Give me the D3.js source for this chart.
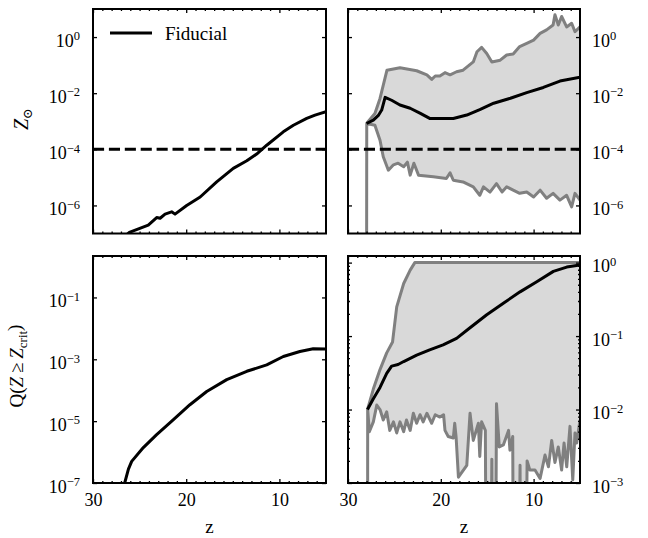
<!DOCTYPE html>
<html><head><meta charset="utf-8">
<script src="https://cdn.jsdelivr.net/npm/d3@7/dist/d3.min.js"></script>
<style>body{margin:0;background:#fff}</style>
</head><body>
<svg id="c" width="648" height="538"></svg>
<script>
// ---------------- data ----------------
const zMajorTicks = [30, 20, 10];
const zMinorTicks = [29,28,27,26,25,24,23,22,21,19,18,17,16,15,14,13,12,11,9,8,7,6];
const metTicks = [1, 1e-2, 1e-4, 1e-6];
const qLeftTicks = [1e-1, 1e-3, 1e-5, 1e-7];
const qRightTicks = [1, 1e-1, 1e-2, 1e-3];
const zCrit = 1e-4;
const legendLabel = "Fiducial";

// top-left: fiducial metallicity vs z  [z, Z/Zsun]
const metFiducial = [[26.4,9e-8],[26.1,1.1e-7],[24.07,2.0e-7],[23.17,3.7e-7],[22.8,3.5e-7],[22.27,4.9e-7],
  [21.56,5.9e-7],[21.2,4.9e-7],[19.95,1.0e-6],[18.5,2.0e-6],[16.73,6.9e-6],[14.95,2.1e-5],[13.5,3.9e-5],
  [12.44,6.8e-5],[11.36,1.4e-4],[9.58,4.2e-4],[8.5,7.2e-4],[7.07,1.26e-3],[6.18,1.66e-3],[5.0,2.2e-3]];

// top-right: median and range of metallicity
const metMedian = [[28.0,8.3e-4],[27.27,1.1e-3],[26.7,1.66e-3],[26.37,2.5e-3],[26.0,7.1e-3],[25.3,5.6e-3],
  [24.4,3.8e-3],[23.3,2.9e-3],[22.2,1.9e-3],[21.2,1.26e-3],[20.1,1.26e-3],[18.65,1.26e-3],[17.2,1.66e-3],
  [15.8,2.6e-3],[14.3,4.4e-3],[12.5,6.6e-3],[10.74,1.05e-2],[8.95,1.6e-2],[7.16,2.7e-2],[5.0,3.7e-2]];
const metHigh = [[28.0,8.3e-4],[27.1,1.9e-3],[26.55,6.5e-3],[25.8,6.6e-2],[24.4,8.1e-2],[22.6,6.3e-2],
  [21.5,4.5e-2],[20.98,3.1e-2],[20.6,4.1e-2],[20.1,4.1e-2],[19.55,5.4e-2],[19.0,4.5e-2],[18.3,5.8e-2],
  [17.6,6.6e-2],[16.5,0.13],[16.1,0.30],[15.6,0.43],[15.05,0.26],[14.5,0.13],[13.6,0.15],[12.9,0.23],
  [12.2,0.25],[11.5,0.46],[10.74,0.60],[10.0,0.78],[9.3,1.35],[8.6,1.8],[7.9,2.7],[7.7,6.2],[7.34,2.7],
  [6.98,5.4],[6.44,2.3],[5.9,3.1],[5.54,1.55],[5.0,2.3]];
const metLow = [[28.0,1e-10],[27.98,8.3e-4],[27.1,7.2e-4],[26.55,2.1e-4],[26.2,5.4e-5],[25.65,1.8e-5],
  [25.1,2.8e-5],[24.6,3.2e-5],[24.0,2.4e-5],[23.6,3.5e-5],[23.3,1.2e-5],[22.9,3.2e-5],[22.4,1.2e-5],
  [20.8,1.05e-5],[19.4,9.1e-6],[19.0,1.45e-5],[18.65,7.9e-6],[17.6,6.9e-6],[16.5,4.6e-6],[15.8,2.3e-6],
  [15.4,4.6e-6],[14.7,3.0e-6],[14.0,6.0e-6],[13.4,3.0e-6],[12.9,4.6e-6],[12.2,3.5e-6],[11.5,2.7e-6],
  [10.74,3.0e-6],[10.0,2.0e-6],[9.3,3.5e-6],[8.6,1.8e-6],[7.9,2.7e-6],[7.16,1.55e-6],[6.44,2.3e-6],
  [5.9,8.9e-7],[5.54,2.7e-6],[5.0,1.55e-6]];

// bottom-left: fiducial Q(Z >= Zcrit)
const qFiducial = [[26.75,5e-8],[26.6,1.0e-7],[26.2,2.8e-7],[25.85,5.0e-7],[24.6,1.4e-6],[23.2,3.6e-6],
  [21.4,1.1e-5],[19.6,3.4e-5],[17.8,9.1e-5],[15.65,2.2e-4],[13.5,4.1e-4],[11.36,6.6e-4],[9.58,1.23e-3],
  [7.8,1.78e-3],[6.37,2.2e-3],[5.0,2.15e-3]];

// bottom-right: median and range of Q
const qMedian = [[27.9,1.0e-2],[27.27,1.4e-2],[26.55,2.0e-2],[25.83,3.1e-2],[25.3,3.9e-2],[24.6,4.1e-2],
  [24.0,4.5e-2],[22.6,5.5e-2],[21.2,6.5e-2],[19.75,7.6e-2],[18.3,9.3e-2],[16.85,0.13],[15.05,0.195],
  [13.26,0.28],[11.46,0.40],[9.66,0.55],[7.87,0.76],[6.43,0.87],[5.0,0.93]];
const qHigh = [[27.9,1.0e-2],[27.27,1.9e-2],[26.55,3.5e-2],[25.83,5.9e-2],[25.2,8.3e-2],[24.75,0.25],
  [24.0,0.52],[23.3,0.79],[22.8,1.0],[5.0,1.0]];
const qLow = [[27.9,1e-10],[27.88,1.0e-2],[27.7,5.0e-3],[27.27,6.8e-3],[26.9,1.15e-2],[26.55,1.0e-2],
  [26.2,7.2e-3],[25.83,9.3e-3],[25.5,5.2e-3],[25.1,6.8e-3],[24.75,4.8e-3],[24.4,6.8e-3],[24.0,5.0e-3],
  [23.7,7.2e-3],[23.3,5.2e-3],[22.96,8.9e-3],[22.6,6.5e-3],[22.24,8.5e-3],[21.9,6.8e-3],[21.5,8.9e-3],
  [20.98,6.5e-3],[20.6,8.5e-3],[20.1,7.9e-3],[19.7,8.5e-3],[19.55,5.2e-3],[19.2,4.3e-3],[18.65,4.1e-3],
  [18.5,6.5e-3],[18.35,4.2e-3],[18.1,1.2e-3],[17.2,1.74e-3],[16.85,8.9e-3],[16.5,3.8e-3],[15.95,6.5e-3],
  [15.8,2.3e-3],[15.6,6.8e-3],[15.2,5.2e-3],[14.9,1e-10],[14.5,2.1e-3],[14.3,1e-10],[14.0,1.2e-2],
  [13.7,3.1e-3],[13.26,3.3e-3],[12.7,5.2e-3],[12.55,2.8e-3],[12.25,4.3e-3],[12.0,1e-10],[11.46,1.74e-3],
  [11.2,1e-10],[10.7,2.0e-3],[10.4,1.5e-3],[9.85,1.5e-3],[9.3,1.15e-3],[8.77,2.4e-3],[8.4,1.66e-3],
  [8.05,3.8e-3],[7.7,1.9e-3],[7.34,3.1e-3],[6.98,1.5e-3],[6.72,3.5e-3],[6.43,1.66e-3],[6.08,5.9e-3],
  [5.78,1.1e-3],[5.54,4.8e-3],[5.36,3.5e-3],[5.0,7.2e-3]];

// ---------------- drawing ----------------
const svg = d3.select("#c");
const FONT = "'Liberation Serif','Times New Roman',serif";
const GRAY = "#808080", FILL = "#d9d9d9";
const colL = [93, 326], colR = [348, 580];
const rowT = [9, 233.5], rowB = [256, 483];

function supLabels(sel){
  sel.selectAll(".tick text").each(function(d){
    const e = Math.round(Math.log10(d));
    const t = d3.select(this);
    t.text(null).attr("dy","0.5em");
    t.append("tspan").text("10");
    t.append("tspan").attr("dy","-0.5em").attr("font-size","12.5px").text(e < 0 ? "\u2212" + (-e) : String(e));
  });
}

let clipN = 0;
function panel(o){
  const x = d3.scaleLinear().domain([30,5]).range(o.xr);
  const y = d3.scaleLog().domain(o.yd).range([o.yr[1], o.yr[0]]);
  const id = "clip" + (clipN++);
  svg.append("clipPath").attr("id", id).append("rect")
    .attr("x", o.xr[0]).attr("y", o.yr[0]).attr("width", o.xr[1]-o.xr[0]).attr("height", o.yr[1]-o.yr[0]);
  const g = svg.append("g").attr("clip-path", `url(#${id})`);
  const line = d3.line().x(d => x(d[0])).y(d => y(d[1]));
  if (o.low && o.high){
    const poly = o.high.concat(o.low.slice().reverse());
    g.append("path").attr("d", line(poly) + "Z").attr("fill", FILL).attr("stroke","none");
    [o.high, o.low].forEach(s => g.append("path").attr("d", line(s)).attr("fill","none")
      .attr("stroke", GRAY).attr("stroke-width", 3).attr("stroke-linejoin","round"));
  }
  g.append("path").attr("d", line(o.main)).attr("fill","none").attr("stroke","#000")
    .attr("stroke-width", 3).attr("stroke-linejoin","round");
  if (o.crit){
    g.append("line").attr("x1", o.xr[0]).attr("x2", o.xr[1]).attr("y1", y(o.crit)).attr("y2", y(o.crit))
      .attr("stroke","#000").attr("stroke-width",3).attr("stroke-dasharray","11.1,4.8");
  }
  // x axes (ticks inward, top and bottom)
  const xb = svg.append("g").attr("transform", `translate(0,${o.yr[1]})`)
    .call(d3.axisBottom(x).tickValues(zMajorTicks).tickSize(-4).tickPadding(10)
      .tickFormat(o.xLabels ? d3.format("d") : ""));
  svg.append("g").attr("transform", `translate(0,${o.yr[1]})`)
    .call(d3.axisBottom(x).tickValues(zMinorTicks).tickSize(-2).tickFormat(""));
  svg.append("g").attr("transform", `translate(0,${o.yr[0]})`)
    .call(d3.axisTop(x).tickValues(zMajorTicks).tickSize(-4).tickFormat(""));
  svg.append("g").attr("transform", `translate(0,${o.yr[0]})`)
    .call(d3.axisTop(x).tickValues(zMinorTicks).tickSize(-2).tickFormat(""));
  // y axes
  const labelled = o.side === "left"
    ? d3.axisLeft(y).tickPadding(13) : d3.axisRight(y).tickPadding(12);
  const yl = svg.append("g").attr("transform", `translate(${o.side==="left"?o.xr[0]:o.xr[1]},0)`)
    .call(labelled.tickValues(o.yt).tickSize(-4));
  supLabels(yl);
  const other = o.side === "left" ? d3.axisRight(y) : d3.axisLeft(y);
  svg.append("g").attr("transform", `translate(${o.side==="left"?o.xr[1]:o.xr[0]},0)`)
    .call(other.tickValues(o.yt).tickSize(-4).tickFormat(""));
  if (o.ym){
    svg.append("g").attr("transform", `translate(${o.xr[0]},0)`)
      .call(d3.axisLeft(y).tickValues(o.ym).tickSize(-2).tickFormat(""));
    svg.append("g").attr("transform", `translate(${o.xr[1]},0)`)
      .call(d3.axisRight(y).tickValues(o.ym).tickSize(-2).tickFormat(""));
  }
  svg.selectAll(".domain").remove();
  svg.selectAll(".tick line").attr("stroke","#000").attr("stroke-width",1.3);
  svg.selectAll(".tick text").attr("font-family", FONT).attr("font-size","18px").attr("fill","#000");
  svg.append("rect").attr("x", o.xr[0]).attr("y", o.yr[0]).attr("width", o.xr[1]-o.xr[0])
    .attr("height", o.yr[1]-o.yr[0]).attr("fill","none").attr("stroke","#000").attr("stroke-width",2);
  if (o.xLabels){
    svg.append("text").attr("x", (o.xr[0]+o.xr[1])/2).attr("y", 533).attr("text-anchor","middle")
      .attr("font-family", FONT).attr("font-size","19px").text("z");
  }
  return {x, y};
}

const qMinor = [];
[1e-3,1e-2,1e-1].forEach(b => d3.range(2,10).forEach(k => qMinor.push(b*k)));

panel({xr: colL, yr: rowT, yd: [1e-7, 10], yt: metTicks, side: "left", main: metFiducial, crit: zCrit});
panel({xr: colR, yr: rowT, yd: [1e-7, 10], yt: metTicks, side: "right", main: metMedian,
  high: metHigh, low: metLow, crit: zCrit});
panel({xr: colL, yr: rowB, yd: [1e-7, Math.pow(10,0.34)], yt: qLeftTicks, side: "left", main: qFiducial, xLabels: true});
panel({xr: colR, yr: rowB, yd: [1e-3, Math.pow(10,0.09)], yt: qRightTicks, ym: qMinor, side: "right",
  main: qMedian, high: qHigh, low: qLow, xLabels: true});

// legend
svg.append("line").attr("x1",110).attr("x2",152).attr("y1",33).attr("y2",33)
  .attr("stroke","#000").attr("stroke-width",3);
svg.append("text").attr("x",165).attr("y",40).attr("font-family",FONT).attr("font-size","19px").text(legendLabel);

// y labels
const yl1 = svg.append("text").attr("transform","translate(28,119) rotate(-90)").attr("text-anchor","middle")
  .attr("font-family",FONT).attr("font-size","20px");
yl1.append("tspan").attr("font-style","italic").text("Z");
yl1.append("tspan").attr("dy","0.3em").attr("font-size","13px").attr("font-family","'DejaVu Serif',serif").text("\u2299");

const yl2 = svg.append("text").attr("transform","translate(23,366) rotate(-90)").attr("text-anchor","middle")
  .attr("font-family",FONT).attr("font-size","19px");
yl2.append("tspan").text("Q(");
yl2.append("tspan").attr("font-style","italic").text("Z");
yl2.append("tspan").text("\u2009\u2265\u2009");
yl2.append("tspan").attr("font-style","italic").text("Z");
yl2.append("tspan").attr("dy","0.3em").attr("font-size","13px").text("crit");
yl2.append("tspan").attr("dy","-0.3em").text(")");
</script>
</body></html>
